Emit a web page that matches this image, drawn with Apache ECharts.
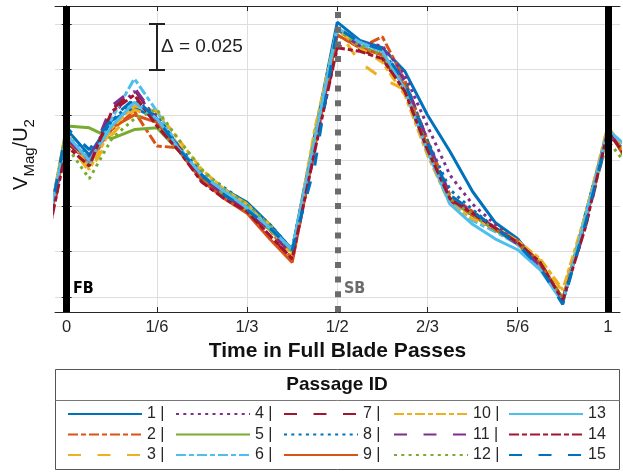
<!DOCTYPE html>
<html>
<head>
<meta charset="utf-8">
<script src="https://cdn.jsdelivr.net/npm/echarts@6/dist/echarts.min.js"></script>
<style>
  html, body { margin: 0; padding: 0; background: #fff; }
  #chart { width: 623px; height: 472px; }
</style>
</head>
<body>
<div id="chart"></div>
<script>
// time in full blade passes (one sample every 1/24 pass)
var times = [-0.0417, 0, 0.0417, 0.0833, 0.125, 0.1667, 0.2083, 0.25, 0.2917, 0.3333, 0.375, 0.4167, 0.4583,
    0.5, 0.5417, 0.5833, 0.625, 0.6667, 0.7083, 0.75, 0.7917, 0.8333, 0.875, 0.9167, 0.9583, 1, 1.0417];

var xTickValues = [0, 1 / 6, 1 / 3, 1 / 2, 2 / 3, 5 / 6, 1];
var xTickLabels = ['0', '1/6', '1/3', '1/2', '2/3', '5/6', '1'];
var yTickValues = [0.3, 0.325, 0.35, 0.375, 0.4, 0.425, 0.45];

var passageIds = ['1', '2', '3', '4', '5', '6', '7', '8', '9', '10', '11', '12', '13', '14', '15'];

// V_Mag / U_2 per passage
var p1 = [0.326, 0.392, 0.378, 0.397, 0.404, 0.398, 0.381, 0.365, 0.359, 0.352, 0.340, 0.326, 0.389, 0.451, 0.441, 0.437, 0.424, 0.400, 0.380, 0.358, 0.341, 0.332, 0.317, 0.297, 0.345, 0.391, 0.376];
var p2 = [0.331, 0.386, 0.374, 0.392, 0.402, 0.383, 0.382, 0.365, 0.356, 0.349, 0.337, 0.321, 0.383, 0.444, 0.437, 0.443, 0.419, 0.386, 0.356, 0.347, 0.338, 0.331, 0.319, 0.299, 0.341, 0.393, 0.375];
var p3 = [0.334, 0.386, 0.369, 0.389, 0.403, 0.398, 0.383, 0.369, 0.359, 0.351, 0.340, 0.323, 0.389, 0.447, 0.429, 0.420, 0.414, 0.381, 0.353, 0.345, 0.337, 0.330, 0.320, 0.303, 0.342, 0.394, 0.372];
var p4 = [0.329, 0.387, 0.376, 0.400, 0.413, 0.398, 0.381, 0.367, 0.357, 0.349, 0.337, 0.326, 0.386, 0.448, 0.440, 0.438, 0.422, 0.394, 0.367, 0.351, 0.340, 0.329, 0.316, 0.298, 0.343, 0.391, 0.376];
var p5 = [0.326, 0.394, 0.393, 0.387, 0.392, 0.393, 0.380, 0.364, 0.356, 0.348, 0.337, 0.325, 0.386, 0.447, 0.438, 0.433, 0.415, 0.382, 0.354, 0.345, 0.337, 0.329, 0.318, 0.299, 0.342, 0.393, 0.371];
var p6 = [0.332, 0.389, 0.372, 0.398, 0.420, 0.402, 0.382, 0.367, 0.358, 0.349, 0.338, 0.326, 0.385, 0.448, 0.438, 0.433, 0.415, 0.382, 0.353, 0.342, 0.336, 0.329, 0.316, 0.298, 0.345, 0.389, 0.378];
var p7 = [0.323, 0.385, 0.374, 0.403, 0.414, 0.397, 0.382, 0.365, 0.354, 0.347, 0.334, 0.320, 0.381, 0.438, 0.436, 0.431, 0.413, 0.380, 0.353, 0.345, 0.338, 0.330, 0.319, 0.299, 0.338, 0.389, 0.374];
var p8 = [0.330, 0.389, 0.376, 0.397, 0.408, 0.400, 0.382, 0.369, 0.360, 0.351, 0.340, 0.326, 0.387, 0.447, 0.440, 0.435, 0.418, 0.386, 0.359, 0.348, 0.338, 0.330, 0.318, 0.297, 0.345, 0.392, 0.375];
var p9 = [0.327, 0.386, 0.375, 0.393, 0.400, 0.396, 0.380, 0.364, 0.354, 0.346, 0.332, 0.319, 0.382, 0.444, 0.437, 0.433, 0.416, 0.383, 0.354, 0.345, 0.337, 0.330, 0.318, 0.299, 0.341, 0.392, 0.372];
var p10 = [0.331, 0.391, 0.370, 0.393, 0.405, 0.402, 0.386, 0.370, 0.359, 0.351, 0.338, 0.323, 0.392, 0.447, 0.437, 0.429, 0.411, 0.378, 0.351, 0.343, 0.338, 0.331, 0.321, 0.304, 0.345, 0.394, 0.375];
var p11 = [0.326, 0.387, 0.375, 0.405, 0.415, 0.398, 0.381, 0.366, 0.356, 0.348, 0.337, 0.323, 0.383, 0.446, 0.438, 0.436, 0.419, 0.386, 0.356, 0.346, 0.338, 0.329, 0.317, 0.298, 0.341, 0.391, 0.375];
var p12 = [0.334, 0.383, 0.365, 0.387, 0.398, 0.403, 0.386, 0.370, 0.359, 0.351, 0.339, 0.325, 0.387, 0.447, 0.438, 0.433, 0.415, 0.382, 0.354, 0.345, 0.337, 0.330, 0.319, 0.299, 0.343, 0.386, 0.370];
var p13 = [0.329, 0.389, 0.375, 0.394, 0.407, 0.398, 0.381, 0.367, 0.358, 0.349, 0.338, 0.326, 0.386, 0.448, 0.440, 0.435, 0.414, 0.380, 0.351, 0.340, 0.332, 0.326, 0.315, 0.297, 0.343, 0.392, 0.381];
var p14 = [0.323, 0.383, 0.372, 0.402, 0.411, 0.394, 0.380, 0.363, 0.354, 0.347, 0.334, 0.321, 0.380, 0.437, 0.435, 0.431, 0.413, 0.381, 0.354, 0.346, 0.338, 0.330, 0.319, 0.298, 0.338, 0.391, 0.374];
var p15 = [0.326, 0.393, 0.381, 0.398, 0.409, 0.398, 0.381, 0.367, 0.356, 0.348, 0.338, 0.326, 0.372, 0.448, 0.440, 0.436, 0.418, 0.385, 0.356, 0.347, 0.338, 0.329, 0.316, 0.296, 0.340, 0.389, 0.375];
var passageData = [p1, p2, p3, p4, p5, p6, p7, p8, p9, p10, p11, p12, p13, p14, p15];

// matlab default colour order, line style cycles every 3
var colors = ['#0072BD', '#D95319', '#EDB120', '#7E2F8E', '#77AC30', '#4DBEEE', '#A2142F',
    '#0072BD', '#D95319', '#EDB120', '#7E2F8E', '#77AC30', '#4DBEEE', '#A2142F', '#0072BD'];
var dashes = {
    solid: 'solid',
    dashdot: [10, 3, 5, 3],
    dashed: [13, 16.5],
    dotted: [3, 4.3]
};
var styleOrder = ['solid', 'dashdot', 'dashed', 'dotted', 'solid', 'dashdot', 'dashed', 'dotted',
    'solid', 'dashdot', 'dashed', 'dotted', 'solid', 'dashdot', 'dashed'];

var FONT = '"Liberation Sans", Arial, sans-serif';
var TXT = '#262626';

var chart = echarts.init(document.getElementById('chart'));

var series = [{
    // blade markers under the data
    type: 'line',
    data: [],
    z: 1,
    silent: true,
    markLine: {
        symbol: 'none',
        silent: true,
        animation: false,
        label: {show: false},
        data: [
            {xAxis: 0, lineStyle: {color: '#000', width: 7, type: 'solid'}},
            {xAxis: 1, lineStyle: {color: '#000', width: 7, type: 'solid'}},
            {xAxis: 0.5, lineStyle: {color: '#6b6b6b', width: 6, type: [6, 8.7]}}
        ]
    }
}];
passageIds.forEach(function (id, i) {
    series.push({
        name: id,
        type: 'line',
        z: 3,
        symbol: 'none',
        clip: true,
        data: times.map(function (t, k) { return [t, passageData[i][k]]; }),
        lineStyle: {color: colors[i], width: 3, type: dashes[styleOrder[i]]},
        itemStyle: {color: colors[i]}
    });
});

var legendCols = [['1', '2', '3'], ['4', '5', '6'], ['7', '8', '9'], ['10', '11', '12'], ['13', '14', '15']];
var legendLeft = [67, 175, 283, 393, 508];
var legends = legendCols.map(function (names, c) {
    return {
        data: names,
        orient: 'vertical',
        left: legendLeft[c],
        top: 406,
        padding: 0,
        itemWidth: 74,
        itemHeight: 14,
        itemGap: 4.5,
        selectedMode: false,
        itemStyle: {opacity: 0, borderWidth: 0},
        formatter: function (name) { return c < 4 ? name + ' |' : name; },
        textStyle: {fontFamily: FONT, fontSize: 16, color: TXT}
    };
});

var axisLineStyle = {show: true, lineStyle: {color: TXT, width: 1}};

chart.setOption({
    animation: false,
    backgroundColor: '#fff',
    textStyle: {fontFamily: FONT},
    grid: {left: 55, right: 3, top: 6, bottom: 160, containLabel: false},
    xAxis: [{
        type: 'value',
        min: -0.0216,
        max: 1.0225,
        name: 'Time in Full Blade Passes',
        nameLocation: 'middle',
        nameGap: 16,
        nameTextStyle: {fontFamily: FONT, fontSize: 21, fontWeight: 'bold', color: '#111'},
        axisLine: axisLineStyle,
        axisTick: {show: true, inside: true, length: 5, customValues: xTickValues, lineStyle: {color: TXT}},
        axisLabel: {
            customValues: xTickValues,
            margin: 7,
            fontSize: 16.5,
            color: TXT,
            formatter: function (v) {
                for (var i = 0; i < xTickValues.length; i++) {
                    if (Math.abs(xTickValues[i] - v) < 1e-6) return xTickLabels[i];
                }
                return '';
            }
        },
        splitLine: {show: true, lineStyle: {color: '#dedede', width: 1}}
    }, {
        type: 'value',
        position: 'top',
        min: -0.0216,
        max: 1.0225,
        axisLine: axisLineStyle,
        axisTick: {show: true, inside: true, length: 5, customValues: xTickValues, lineStyle: {color: TXT}},
        axisLabel: {show: false},
        splitLine: {show: false}
    }],
    yAxis: [{
        type: 'value',
        min: 0.2918,
        max: 0.4599,
        name: '{v|V}{s|Mag}{v|/U}{s|2}',
        nameLocation: 'middle',
        nameGap: 18,
        nameTextStyle: {
            color: '#111',
            padding: [0, 0, 0, 9],
            rich: {
                v: {fontFamily: FONT, fontSize: 20, color: '#111', padding: [0, 0, 6, 0], verticalAlign: 'bottom'},
                s: {fontFamily: FONT, fontSize: 15, color: '#111', verticalAlign: 'bottom'}
            }
        },
        axisLine: axisLineStyle,
        axisTick: {show: true, inside: true, length: 5, customValues: yTickValues, lineStyle: {color: TXT}},
        axisLabel: {show: false, customValues: yTickValues},
        splitLine: {show: true, lineStyle: {color: '#dedede', width: 1}}
    }, {
        type: 'value',
        position: 'right',
        min: 0.2918,
        max: 0.4599,
        axisLine: axisLineStyle,
        axisTick: {show: true, inside: true, length: 5, customValues: yTickValues, lineStyle: {color: TXT}},
        axisLabel: {show: false, customValues: yTickValues},
        splitLine: {show: false}
    }],
    legend: legends,
    graphic: [
        // legend frame + header divider
        {type: 'rect', shape: {x: 55.5, y: 369.5, width: 564, height: 100}, style: {fill: 'none', stroke: '#555', lineWidth: 1}, silent: true},
        {type: 'line', shape: {x1: 55.5, y1: 400.5, x2: 619.5, y2: 400.5}, style: {stroke: '#777', lineWidth: 1}, silent: true},
        {type: 'text', x: 337, y: 385, style: {text: 'Passage ID', font: 'bold 19px "Liberation Sans", Arial, sans-serif', fill: '#111', textAlign: 'center', textVerticalAlign: 'middle'}},
        // delta scale bar
        {type: 'line', shape: {x1: 157, y1: 24, x2: 157, y2: 70}, style: {stroke: '#222', lineWidth: 2}, z: 10},
        {type: 'line', shape: {x1: 149, y1: 24, x2: 165, y2: 24}, style: {stroke: '#222', lineWidth: 2}, z: 10},
        {type: 'line', shape: {x1: 149, y1: 70, x2: 165, y2: 70}, style: {stroke: '#222', lineWidth: 2}, z: 10},
        {type: 'text', x: 161, y: 47, style: {text: 'Δ = 0.025', font: '19px "Liberation Sans", Arial, sans-serif', fill: '#222', textVerticalAlign: 'middle'}, z: 10},
        {type: 'text', x: 73, y: 289, style: {text: 'FB', font: 'bold 16px "DejaVu Sans Condensed", "DejaVu Sans", sans-serif', fill: '#000', textVerticalAlign: 'middle'}, z: 10},
        {type: 'text', x: 344, y: 289, style: {text: 'SB', font: 'bold 16px "DejaVu Sans Condensed", "DejaVu Sans", sans-serif', fill: '#6b6b6b', textVerticalAlign: 'middle'}, z: 10}
    ],
    series: series
});
</script>
</body>
</html>
